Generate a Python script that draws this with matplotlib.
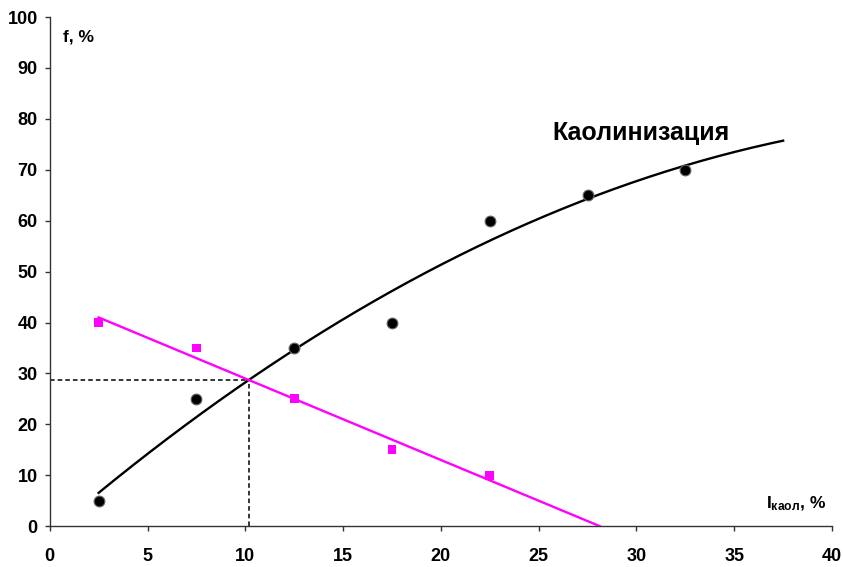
import numpy as np
import matplotlib
matplotlib.use("Agg")
import matplotlib.pyplot as plt

plt.rcParams['font.family'] = ['Liberation Sans', 'DejaVu Sans']
plt.rcParams['font.weight'] = 'bold'
plt.rcParams['mathtext.fontset'] = 'custom'
plt.rcParams['mathtext.rm'] = 'Liberation Sans:bold'
plt.rcParams['mathtext.it'] = 'Liberation Sans:bold'
plt.rcParams['mathtext.bf'] = 'Liberation Sans:bold'

x_kaol = [2.5, 7.5, 12.5, 17.5, 22.5, 27.5, 32.5]
f_kaol = [5, 25, 35, 40, 60, 65, 70]
x_other = [2.5, 7.5, 12.5, 17.5, 22.5]
f_other = [40, 35, 25, 15, 10]

xticks = [0, 5, 10, 15, 20, 25, 30, 35, 40]
yticks = [0, 10, 20, 30, 40, 50, 60, 70, 80, 90, 100]

fig = plt.figure(figsize=(8.43, 5.67), dpi=100)
ax = fig.add_axes([0.059, 0.072, 0.928, 0.898])

# trend lines
pk = np.polyfit(x_kaol, f_kaol, 2)
po = np.polyfit(x_other, f_other, 1)
xk = np.linspace(2.5, 37.5, 200)
ax.plot(xk, np.polyval(pk, xk), color='black', lw=1.7, zorder=3)
x_end = -po[1] / po[0]
xo = np.linspace(2.5, x_end, 100)
ax.plot(xo, np.polyval(po, xo), color='#FF00FF', lw=1.7, zorder=3)

# intersection
roots = np.roots(pk - np.r_[0, po])
xi = [r.real for r in roots if abs(r.imag) < 1e-9 and 2.5 < r.real < 30][0]
yi = np.polyval(po, xi)
ax.plot([0, xi], [yi, yi], color='black', lw=1.1, ls=(0, (3, 2)), zorder=2)
ax.plot([xi, xi], [0, yi], color='black', lw=1.1, ls=(0, (3, 2)), zorder=2)

ax.scatter(x_kaol, f_kaol, s=60, marker='o', color='black', edgecolor='#666666', linewidth=0.8, zorder=4)
ax.scatter(x_other, f_other, s=40, marker='s', color='#FF00FF', edgecolor='none', zorder=4)

ax.set_xlim(0, 40)
ax.set_ylim(0, 100)
ax.set_xticks(xticks)
ax.set_yticks(yticks)
ax.tick_params(direction='out', length=3.6, width=1, labelsize=13, color='#333333')
ax.tick_params(axis='y', pad=5)
ax.tick_params(axis='x', pad=12)
for lab in ax.get_xticklabels() + ax.get_yticklabels():
    lab.set_fontweight('bold')
ax.spines['top'].set_visible(False)
ax.spines['right'].set_visible(False)
for s in ('left', 'bottom'):
    ax.spines[s].set_linewidth(1)
    ax.spines[s].set_color('#333333')

ax.text(0.66, 96, 'f, %', fontsize=12.5, fontweight='bold', ha='left', va='center')
ax.text(25.7, 77.2, 'Каолинизация', fontsize=18, fontweight='bold', ha='left', va='center')
ax.text(36.6, 4.3, r'$\mathrm{I}_{\mathrm{каол}}\mathrm{,\,\%}$', fontsize=12.5, ha='left', va='center')

fig.savefig('out.png', dpi=100)
